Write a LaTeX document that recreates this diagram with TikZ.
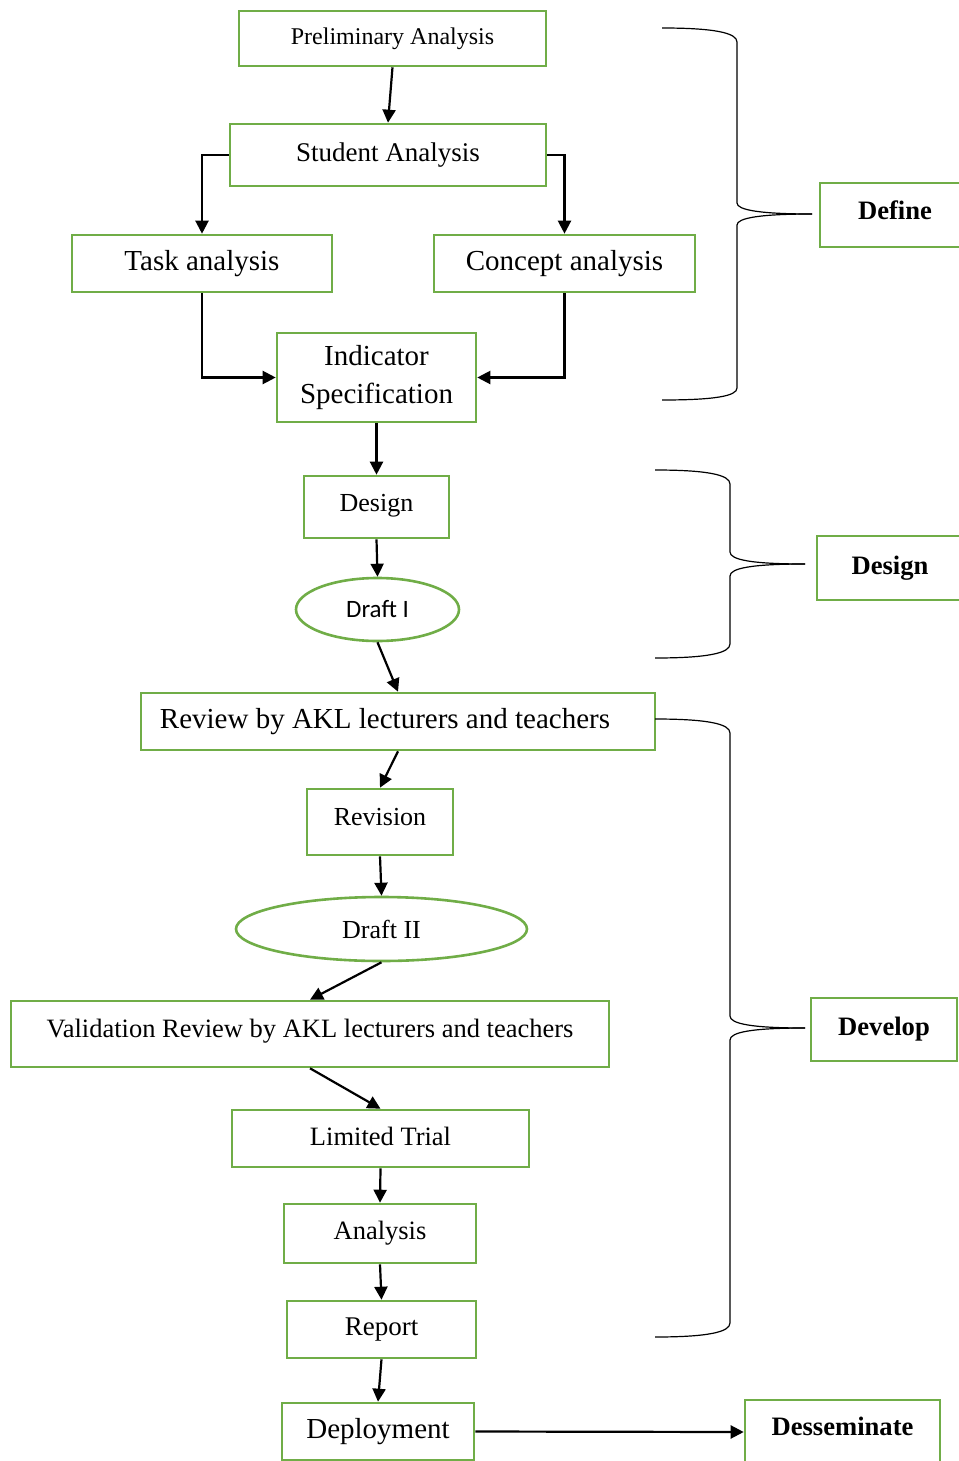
\documentclass[tikz,border=0pt]{standalone}
\usepackage{fontspec}
\setmainfont{Liberation Serif}
\newfontfamily\draftfont{Carlito}
\usepackage{xcolor}
\usepackage{tikz}
\usetikzlibrary{positioning}
\usetikzlibrary{shapes,arrows.meta}
\usetikzlibrary{calc}

\newcommand{\fsz}[1]{\fontsize{#1}{#1}\selectfont}

\begin{document}
\begin{tikzpicture}
    [%%%%%%%%%%%%%%%%%%%%%%%%%%%%%%
        x=1pt, y=-1pt,
        box/.style={rectangle,draw=boxgreen,line width=2.6pt,inner sep=0pt,text=black},
        oval/.style={ellipse,draw=boxgreen,line width=2.6pt,inner sep=0pt,text=black},
        stage/.style={box,font=\bfseries\fsz{26.6}},
        arr/.style={-{Triangle[length=13pt,width=13pt]},line width=2.2pt},
        brace/.style={line width=1.2pt}
    ]%%%%%%%%%%%%%%%%%%%%%%%%%%%%%%
\definecolor{boxgreen}{RGB}{112,173,71}
\useasboundingbox (0,0) rectangle (958,1461);

% define
\node[box,minimum width=307pt,minimum height=55pt,font=\fsz{24}] (prelim) at (392.5,38.5) {Preliminary Analysis};
\node[box,minimum width=316pt,minimum height=62pt,font=\fsz{27}] (student) at (388,155) {Student Analysis\raisebox{0pt}[0pt][5pt]{}};
\node[box,minimum width=260pt,minimum height=57pt,font=\fsz{29}] (task) at (202,263.5) {Task analysis};
\node[box,minimum width=261pt,minimum height=57pt,font=\fsz{29}] (concept) at (564.5,263.5) {Concept analysis};
\node[box,minimum width=199pt,minimum height=89pt,align=center,font={\fontsize{29}{38}\selectfont}] (indicator) at (376.5,377.5) {Indicator\\Specification};

\draw [arr] (prelim.south) -- (student.north);
\draw [arr] (student.west) -| (task.north);
\draw [arr] (student.east) -| (concept.north);
\draw [arr] (task.south) |- (indicator.west);
\draw [arr] (concept.south) |- (indicator.east);

% design
\node[box,minimum width=145pt,minimum height=62pt,font=\fsz{26}] (design) at (376.5,507) {Design\raisebox{0pt}[0pt][8pt]{}};
\node[oval,minimum width=163pt,minimum height=63pt,font=\draftfont\fsz{25}] (draftone) at (377.5,609.5) {Draft I};

\draw [arr] (indicator.south) -- (design.north);
\draw [arr] (design.south) -- (draftone.north);

% develop
\node[box,minimum width=514pt,minimum height=57pt,font=\fsz{29}] (review) at (398,721.5) {Review by AKL lecturers and teachers\hspace*{26pt}};
\node[box,minimum width=146pt,minimum height=66pt,font=\fsz{26}] (revision) at (380,822) {Revision\raisebox{0pt}[0pt][10pt]{}};
\node[oval,minimum width=291pt,minimum height=64pt,font=\fsz{26}] (drafttwo) at (381.5,929) {Draft II};
\node[box,minimum width=598pt,minimum height=66pt,font=\fsz{26.5}] (validation) at (310,1034) {Validation Review by AKL lecturers and teachers\raisebox{0pt}[0pt][12pt]{}};
\node[box,minimum width=297pt,minimum height=57pt,font=\fsz{26.5}] (trial) at (380.5,1138.5) {Limited Trial\raisebox{0pt}[0pt][5pt]{}};
\node[box,minimum width=192pt,minimum height=59pt,font=\fsz{26.5}] (analysis) at (380,1233.5) {Analysis\raisebox{0pt}[0pt][5pt]{}};
\node[box,minimum width=189pt,minimum height=57pt,font=\fsz{27}] (report) at (381.5,1329.5) {Report};

\draw [arr] (draftone.south) -- (review.north);
\draw [arr] (review.south) -- (revision.north);
\draw [arr] (revision.south) -- (drafttwo.north);
\draw [arr] (drafttwo.south) -- (validation.north);
\draw [arr] (validation.south) -- (trial.north);
\draw [arr] (trial.south) -- (analysis.north);
\draw [arr] (analysis.south) -- (report.north);

% desseminate
\node[box,minimum width=192pt,minimum height=57pt,font=\fsz{29}] (deploy) at (378,1431.5) {Deployment};
\node[stage,minimum width=195pt,minimum height=64pt] (dissem) at (842.5,1432) {Desseminate\raisebox{0pt}[0pt][12pt]{}};

\draw [arr] (report.south) -- (deploy.north);
\draw [arr] (deploy.east) -- (dissem.west);

% stages
\node[stage,minimum width=160pt,minimum height=64pt] (define) at (900,215) {Define\raisebox{0pt}[0pt][10pt]{}\hspace*{10pt}};
\node[stage,minimum width=160pt,minimum height=64pt] (designstage) at (897,568) {Design\raisebox{0pt}[0pt][6pt]{}\hspace*{14pt}};
\node[stage,minimum width=146pt,minimum height=63pt] (develop) at (884,1029.5) {Develop\raisebox{0pt}[0pt][6pt]{}};

\draw [brace] (662,28) .. controls (715,28) and (737,33) .. (737,42) -- (737,203)
    .. controls (737,210) and (760,214) .. (812,214);
\draw [brace] (812,214) .. controls (760,214) and (737,218) .. (737,225) -- (737,388)
    .. controls (737,396) and (715,400) .. (662,400);

\draw [brace] (655,470) .. controls (708,470) and (730,475) .. (730,484) -- (730,552)
    .. controls (730,560) and (753,564) .. (805,564);
\draw [brace] (805,564) .. controls (753,564) and (730,568) .. (730,576) -- (730,644)
    .. controls (730,653) and (708,658) .. (655,658);

\draw [brace] (655,719) .. controls (708,719) and (730,724) .. (730,733) -- (730,1016)
    .. controls (730,1024) and (753,1028) .. (805,1028);
\draw [brace] (805,1028) .. controls (753,1028) and (730,1032) .. (730,1040) -- (730,1323)
    .. controls (730,1332) and (708,1337) .. (655,1337);

\end{tikzpicture}
\end{document}
